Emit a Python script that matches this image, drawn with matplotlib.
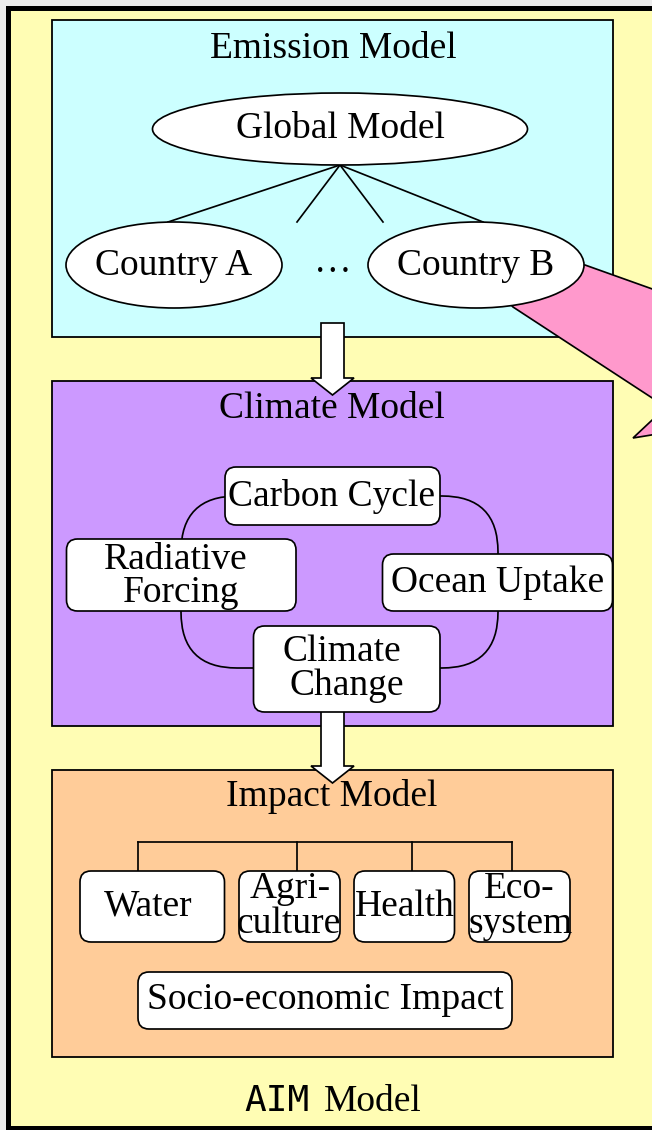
import matplotlib
matplotlib.use("Agg")
import matplotlib.pyplot as plt
from matplotlib.patches import Rectangle, Ellipse, FancyBboxPatch, FancyArrow, Polygon

# ---------------- content ----------------
section_titles = ["Emission Model", "Climate Model", "Impact Model"]
global_label = "Global Model"
country_labels = ["Country A", "Country B"]
ellipsis_label = "\u2026"
climate_nodes = [["Carbon Cycle"], ["Radiative", "Forcing"], ["Ocean Uptake"], ["Climate", "Change"]]
impact_nodes = [["Water"], ["Agri-", "culture"], ["Health"], ["Eco-", "system"]]
socio_label = "Socio-economic Impact"
footer_parts = ["AIM", "Model"]

# ---------------- colours ----------------
C_BG = "#FFFDB4"
C_EMIS = "#CCFFFF"
C_CLIM = "#CC99FF"
C_IMP = "#FFCC99"
C_PINK = "#FF99CC"
SERIF = ["Liberation Serif", "DejaVu Serif"]
FS = 27

W, H = 652, 1130
fig = plt.figure(figsize=(W / 100, H / 100), dpi=100, facecolor="#EDEDED")
ax = fig.add_axes([0, 0, 1, 1])
ax.set_xlim(0, W)
ax.set_ylim(H, 0)
ax.axis("off")

PX = 72 / 100  # points per pixel
LW = 1.7 * PX


def txt(x, y, s, **kw):
    kw.setdefault("family", SERIF)
    kw.setdefault("fontsize", FS)
    ax.text(x, y, s, ha="center", va="baseline", color="black", zorder=6, **kw)


def lines(cx, baselines, labels, xs=None):
    for i, (b, s) in enumerate(zip(baselines, labels)):
        txt(cx if xs is None else xs[i], b, s)


# outer frame
ax.add_patch(Rectangle((7.5, 7.5), 720, 1120.5, facecolor=C_BG, edgecolor="black",
                       lw=5 * PX, zorder=0))

# section boxes
sec_boxes = [(52, 20, 561, 317, C_EMIS), (52, 381, 561, 345, C_CLIM), (52, 770, 561, 287, C_IMP)]
for (x, y, w, h, c) in sec_boxes:
    ax.add_patch(Rectangle((x, y), w, h, facecolor=c, edgecolor="black", lw=1.8 * PX, zorder=1))

# ---- emission model ----
txt(333, 58, section_titles[0])
top = (340, 165)
for bx in [168, 297, 383, 483]:
    ax.plot([top[0], bx], [top[1], 222], color="black", lw=LW, zorder=2)

# pink block arrow (drawn below Country B ellipse)
pink = Polygon([(476, 265), (585, 265), (700, 306), (800, 306), (800, 470), (700, 427),
                (633, 438), (666, 407), (513, 307)], closed=True,
               facecolor=C_PINK, edgecolor="black", lw=LW, zorder=3)
ax.add_patch(pink)

ax.add_patch(Ellipse((340, 129), 375, 72, facecolor="white", edgecolor="black", lw=LW, zorder=4))
txt(340, 138, global_label)
for (cx, lab) in zip([174, 476], country_labels):
    ax.add_patch(Ellipse((cx, 265), 216, 86, facecolor="white", edgecolor="black", lw=LW, zorder=4))
    txt(cx, 275, lab)
txt(333, 272, ellipsis_label)

# ---- down arrows ----
for (y0, y1) in [(323, 395), (700, 783)]:
    ax.add_patch(FancyArrow(332.5, y0, 0, y1 - y0, width=23, head_width=43, head_length=17,
                            length_includes_head=True, facecolor="white", edgecolor="black",
                            lw=LW, zorder=3))

# ---- climate model ----
txt(332, 418, section_titles[1])
ax.add_patch(FancyBboxPatch((181, 496), 317, 172, boxstyle="round,pad=0,rounding_size=56",
                            facecolor="none", edgecolor="black", lw=LW, zorder=2))


def rbox(x0, y0, x1, y1, r=11):
    ax.add_patch(FancyBboxPatch((x0, y0), x1 - x0, y1 - y0,
                                boxstyle=f"round,pad=0,rounding_size={r}",
                                facecolor="white", edgecolor="black", lw=LW, zorder=4))


rbox(225, 467, 440, 525)
lines(332, [506], climate_nodes[0])
rbox(66.5, 539, 296, 611)
lines(None, [569, 602], climate_nodes[1], xs=[176, 181])
rbox(382.5, 554, 612.5, 611)
lines(498, [592], climate_nodes[2])
rbox(253.5, 626, 440, 712)
lines(None, [661, 695], climate_nodes[3], xs=[342, 347])

# ---- impact model ----
txt(332, 806, section_titles[2])
ax.plot([138, 512], [842, 842], color="black", lw=LW, zorder=2)
for vx in [138, 296.5, 411.5, 512]:
    ax.plot([vx, vx], [842, 871], color="black", lw=LW, zorder=2)

imp_boxes = [(80, 224.5), (239, 340), (354, 454.5), (469, 570)]
imp_text_x = [[148], [290, 289], [404.5], [519, 521]]
for (x0, x1), labs, xs in zip(imp_boxes, impact_nodes, imp_text_x):
    rbox(x0, 871, x1, 942)
    if len(labs) == 1:
        lines(None, [916], labs, xs=xs)
    else:
        lines(None, [898, 933], labs, xs=xs)

rbox(138, 972, 512, 1029)
txt(325, 1009, socio_label)

# ---- footer ----
ax.text(244, 1111, footer_parts[0], ha="left", va="baseline", family=["DejaVu Sans Mono"],
        fontsize=26, color="black", zorder=6)
ax.text(324, 1111, footer_parts[1], ha="left", va="baseline", family=SERIF,
        fontsize=FS, color="black", zorder=6)

fig.savefig("out.png", dpi=100, facecolor=fig.get_facecolor())
